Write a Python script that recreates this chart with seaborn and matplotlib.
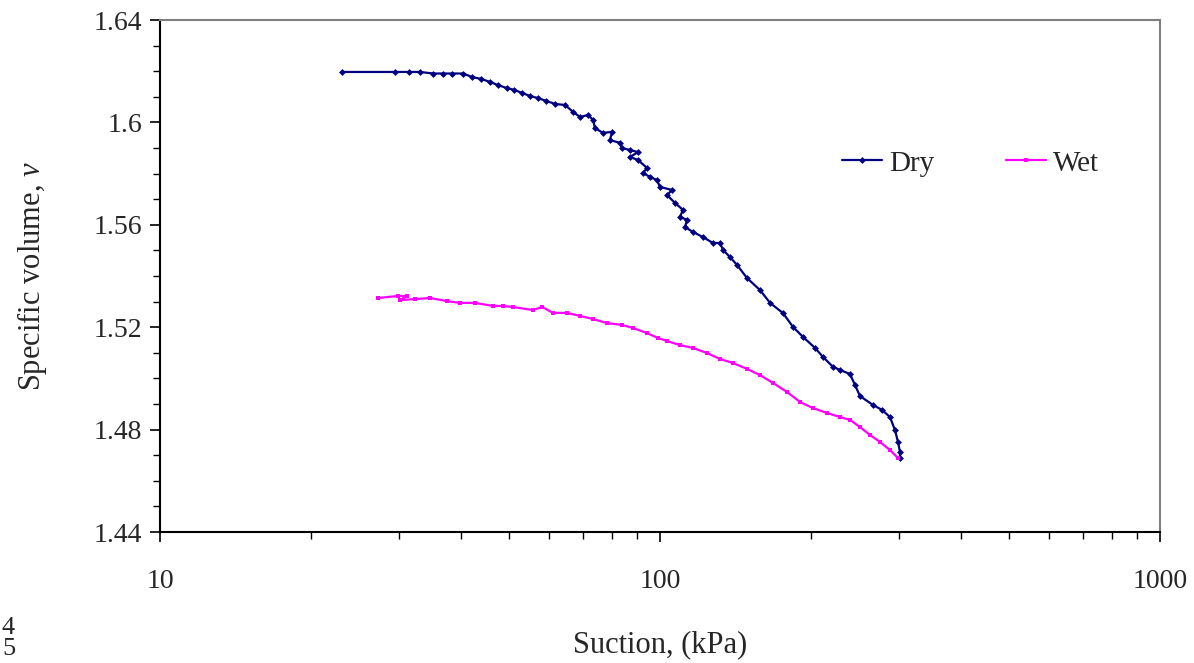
import numpy as np
import pandas as pd
import matplotlib
matplotlib.use("Agg")
import matplotlib.pyplot as plt
import seaborn as sns
from matplotlib.ticker import FixedLocator, NullFormatter, LogLocator

# ---- data ----
dry_suction = [23.1, 29.5, 31.5, 33.1, 35.2, 36.8, 38.4, 40.4, 42.1, 43.9,
               45.7, 47.4, 49.4, 51.1, 53.0, 55.0, 57.0, 59.2, 61.7, 64.6,
               67.0, 69.2, 71.8, 73.5, 74.1, 76.9, 80.2, 79.4, 83.2, 83.9,
               87.1, 90.4, 87.1, 90.4, 94.2, 92.5, 95.5, 98.6, 100.0, 105.7,
               103.3, 107.2, 111.2, 109.6, 113.2, 112.2, 116.4, 121.9, 127.6, 131.8,
               133.7, 138.0, 142.6, 149.3, 158.5, 166.0, 176.2, 184.5, 193.2, 204.2,
               211.8, 221.8, 229.1, 239.9, 245.5, 251.2, 266.7, 278.0, 288.4, 295.1,
               299.2, 302.0, 302.0]
dry_volume = [1.6197, 1.6197, 1.6197, 1.6197, 1.6191, 1.6191, 1.6191, 1.6191, 1.6177, 1.6170,
              1.6158, 1.6146, 1.6134, 1.6127, 1.6115, 1.6103, 1.6095, 1.6084, 1.6072, 1.6068,
              1.6041, 1.6021, 1.6029, 1.6009, 1.5978, 1.5959, 1.5963, 1.5931, 1.5920, 1.5900,
              1.5892, 1.5884, 1.5865, 1.5853, 1.5822, 1.5802, 1.5787, 1.5775, 1.5748, 1.5736,
              1.5716, 1.5685, 1.5658, 1.5631, 1.5619, 1.5591, 1.5572, 1.5552, 1.5529, 1.5529,
              1.5502, 1.5474, 1.5443, 1.5392, 1.5345, 1.5295, 1.5255, 1.5201, 1.5162, 1.5119,
              1.5084, 1.5045, 1.5033, 1.5017, 1.4974, 1.4931, 1.4896, 1.4877, 1.4849, 1.4798,
              1.4752, 1.4713, 1.4689]

wet_suction = [27.3, 29.9, 31.2, 30.2, 32.4, 34.7, 37.5, 39.8, 42.7, 46.3,
               48.5, 50.8, 55.7, 58.1, 61.1, 65.2, 69.2, 73.5, 78.3, 83.9,
               88.3, 94.2, 99.1, 103.3, 109.6, 116.4, 124.2, 131.8, 140.0, 149.3,
               158.5, 168.3, 179.5, 190.5, 202.3, 215.8, 229.1, 239.9, 251.2, 263.0,
               275.4, 288.4, 299.2]
wet_volume = [1.5314, 1.5322, 1.5322, 1.5306, 1.5310, 1.5314, 1.5302, 1.5295, 1.5295, 1.5283,
              1.5283, 1.5279, 1.5267, 1.5279, 1.5256, 1.5256, 1.5244, 1.5232, 1.5216, 1.5209,
              1.5197, 1.5177, 1.5158, 1.5146, 1.5130, 1.5119, 1.5099, 1.5076, 1.5060, 1.5037,
              1.5013, 1.4982, 1.4947, 1.4908, 1.4884, 1.4865, 1.4849, 1.4838, 1.4810, 1.4779,
              1.4752, 1.4720, 1.4689]

y_ticks = [1.44, 1.48, 1.52, 1.56, 1.60, 1.64]
y_tick_labels = ["1.44", "1.48", "1.52", "1.56", "1.6", "1.64"]
x_ticks = [10, 100, 1000]
x_tick_labels = ["10", "100", "1000"]

dry_df = pd.DataFrame({"Suction": dry_suction, "v": dry_volume})
wet_df = pd.DataFrame({"Suction": wet_suction, "v": wet_volume})

sns.set_theme(style="white")
plt.rcParams["font.family"] = ["Liberation Serif", "DejaVu Serif"]
plt.rcParams["mathtext.fontset"] = "custom"
plt.rcParams["mathtext.it"] = "Liberation Serif:italic"
plt.rcParams["mathtext.rm"] = "Liberation Serif"

fig = plt.figure(figsize=(11.94, 6.63), dpi=100)
ax = fig.add_axes([160/1194, 1 - 532/663, 1000/1194, 512/663])

sns.lineplot(data=dry_df, x="Suction", y="v", sort=False, estimator=None, ax=ax,
             color="#000080", linewidth=1.6, marker="D", markersize=3.5,
             markeredgewidth=0, label="Dry")
sns.lineplot(data=wet_df, x="Suction", y="v", sort=False, estimator=None, ax=ax,
             color="#FF00FF", linewidth=1.6, marker="s", markersize=3.5,
             markeredgewidth=0, label="Wet")

ax.set_xscale("log")
ax.set_xlim(10, 1000)
ax.set_ylim(1.44, 1.64)
ax.set_xticks(x_ticks)
ax.set_xticklabels(x_tick_labels)
ax.xaxis.set_minor_locator(LogLocator(base=10, subs=np.arange(2, 10)))
ax.xaxis.set_minor_formatter(NullFormatter())
ax.set_yticks(y_ticks)
ax.set_yticklabels(y_tick_labels)
ax.yaxis.set_minor_locator(FixedLocator(np.arange(1.44, 1.6401, 0.01)))

ax.tick_params(axis="both", which="major", direction="out", length=7, width=1.2,
               color="black", labelsize=20, pad=6, bottom=True, left=True)
ax.tick_params(axis="both", which="minor", direction="out", length=5, width=1.0,
               color="black", bottom=True, left=True)
ax.tick_params(axis="x", which="major", pad=20)

for side in ["left", "bottom"]:
    ax.spines[side].set_color("black")
    ax.spines[side].set_linewidth(1.5)
for side in ["top", "right"]:
    ax.spines[side].set_color("#808080")
    ax.spines[side].set_linewidth(1.5)

ax.set_xlabel("Suction, (kPa)", fontsize=22, labelpad=26)
ax.set_ylabel("Specific volume, $v$", fontsize=22, labelpad=32)
ax.grid(False)

leg = ax.legend(loc="center left", bbox_to_anchor=(0.656, 0.72), ncol=2, frameon=False,
                fontsize=21, handlelength=1.37, handletextpad=0.24, columnspacing=2.45,
                markerscale=1.0)

fig.text(2/1194, 1 - 628/663, "4", fontsize=19, ha="left", va="center")
fig.text(2/1194, 1 - 649/663, "5", fontsize=19, ha="left", va="center")

fig.savefig("out.png", dpi=100, facecolor="white")
